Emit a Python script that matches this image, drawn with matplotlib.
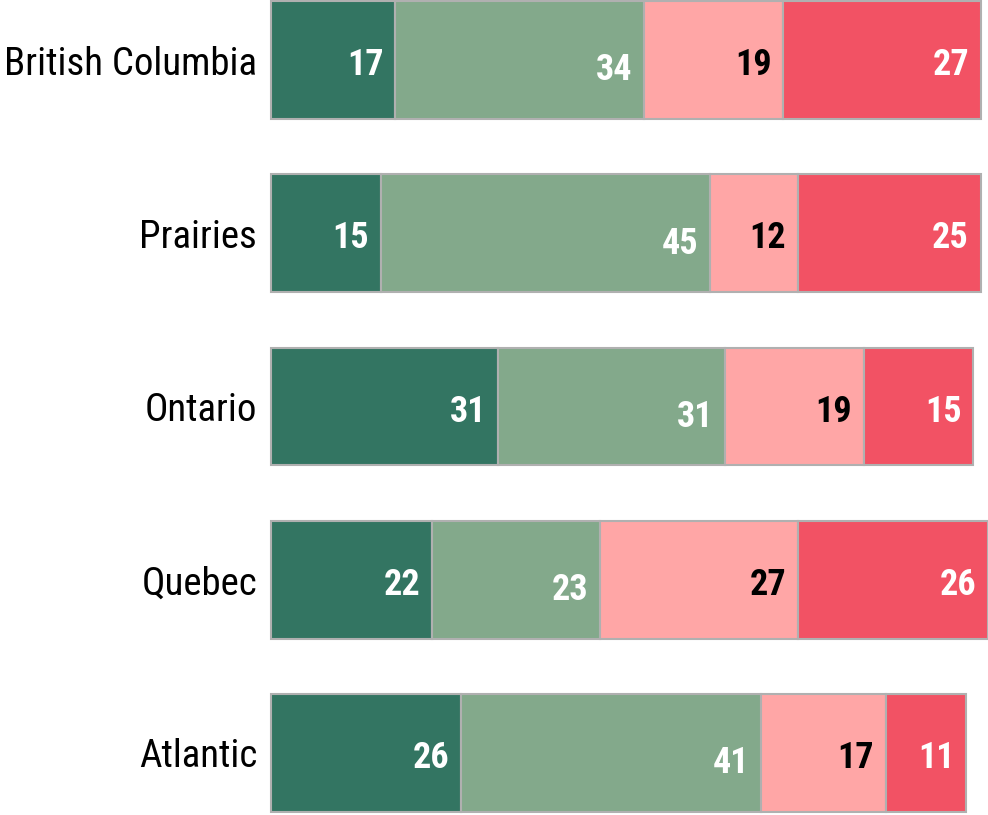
import numpy as np
import matplotlib.pyplot as plt
from matplotlib import font_manager as fm

regions = ['British Columbia', 'Prairies', 'Ontario', 'Quebec', 'Atlantic']
strong_yes = [17, 15, 31, 22, 26]
some_yes = [34, 45, 31, 23, 41]
some_no = [19, 12, 19, 27, 17]
strong_no = [27, 25, 15, 26, 11]

series = [strong_yes, some_yes, some_no, strong_no]
colors = ['#337562', '#83a98b', '#ffa6a6', '#f25264']
text_colors = ['white', 'white', 'black', 'white']

# narrow font like Arial Narrow, whatever is installed
names = {f.name for f in fm.fontManager.ttflist}
narrow = 'DejaVu Sans'
for cand in ['Liberation Sans Narrow', 'Roboto Condensed', 'Arimo Narrow',
             'PT Sans Narrow', 'Archivo Narrow', 'Barlow Semi Condensed']:
    if cand in names:
        narrow = cand
        break
plt.rcParams['font.family'] = [narrow, 'DejaVu Sans']

fig = plt.figure(figsize=(9.88, 8.15), dpi=100)
ax = fig.add_axes([271 / 988, 0, 1 - 271 / 988, 1])

y = np.arange(len(regions))
left = np.zeros(len(regions))
for k, (vals, c, tc) in enumerate(zip(series, colors, text_colors)):
    vals = np.array(vals)
    ax.barh(y, vals, left=left, height=0.68, color=c,
            edgecolor='#b0b0b0', linewidth=1.5, clip_on=False)
    dy = 0.06 if k == 1 else 0.03
    for yi, l, v in zip(y, left, vals):
        ax.text(l + v - 1.6, yi + dy, str(v), ha='right', va='center',
                color=tc, fontsize=26, fontweight='bold')
    left += vals

ax.set_xlim(0, 98)
ax.set_ylim(4 + 62 / 173, -60 / 173)
ax.set_yticks(y)
ax.set_yticklabels(regions, fontsize=28)
ax.tick_params(axis='y', length=0, pad=10)
ax.set_xticks([])
for s in ax.spines.values():
    s.set_visible(False)

fig.savefig('out.png', dpi=100)
